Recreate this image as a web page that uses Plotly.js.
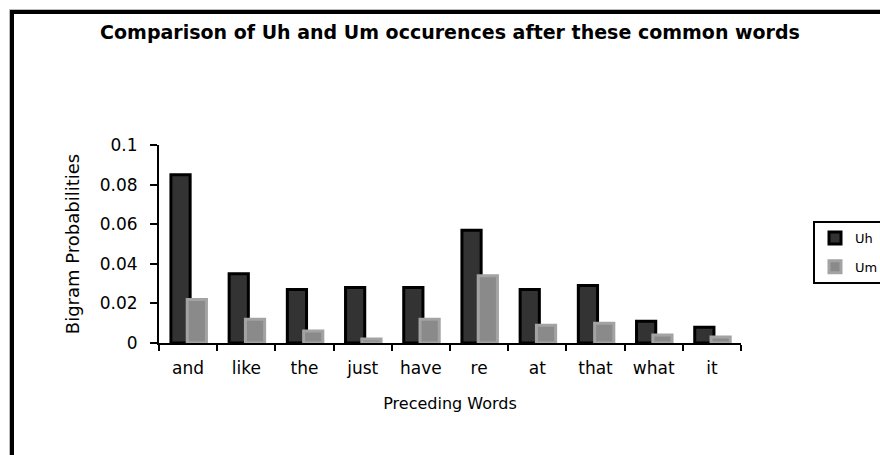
<!DOCTYPE html>
<html>
<head>
<meta charset="utf-8">
<script src="https://cdn.plot.ly/plotly-3.0.1.min.js"></script>
<style>
  html, body { margin: 0; padding: 0; background: #ffffff; }
  #wrap { position: relative; width: 880px; height: 455px; overflow: hidden; }
  #chart { position: absolute; left: 0; top: 0; width: 880px; height: 455px; }
  /* heavy frame running along the top and left edges of the figure */
  #frame {
    position: absolute; left: 10px; top: 10px; width: 900px; height: 480px;
    border-left: 4px solid #000; border-top: 4px solid #000;
    box-shadow: -1px -1px 0 #bbb;
    pointer-events: none;
  }
</style>
</head>
<body>
<div id="wrap">
  <div id="chart"></div>
  <div id="frame"></div>
</div>
<script>
// Preceding words and the bigram probability of "uh" / "um" following each one
const words = ["and", "like", "the", "just", "have", "re", "at", "that", "what", "it"];
const uhProb = [0.085, 0.035, 0.027, 0.028, 0.028, 0.057, 0.027, 0.029, 0.011, 0.008];
const umProb = [0.022, 0.012, 0.006, 0.002, 0.012, 0.034, 0.009, 0.010, 0.004, 0.003];
const yTicks = [0, 0.02, 0.04, 0.06, 0.08, 0.1];

const FONT = "DejaVu Sans, Verdana, sans-serif";

const traces = [
  {
    type: "bar",
    name: "Uh",
    legendgroup: "uh",
    x: words,
    y: uhProb,
    width: 0.33,
    offset: -0.295,
    marker: { color: "#333333", line: { color: "#000000", width: 3 } },
    hoverinfo: "x+y+name"
  },
  {
    type: "bar",
    name: "Um",
    legendgroup: "um",
    x: words,
    y: umProb,
    width: 0.33,
    offset: -0.015,
    marker: { color: "#8a8a8a", line: { color: "#a3a3a3", width: 3 } },
    hoverinfo: "x+y+name"
  }
];

const layout = {
  width: 880,
  height: 455,
  margin: { l: 159, r: 139, t: 145, b: 112 },
  paper_bgcolor: "#ffffff",
  plot_bgcolor: "#ffffff",
  barmode: "overlay",
  showlegend: true,
  font: { family: FONT, color: "#000000", size: 17 },
  title: {
    text: "Comparison of Uh and Um occurences after these common words",
    font: { family: FONT, size: 19, weight: "bold", color: "#000000" },
    xref: "container",
    yref: "container",
    x: 450 / 880,
    xanchor: "center",
    y: 1 - 32 / 455,
    yanchor: "middle"
  },
  xaxis: {
    type: "category",
    categoryarray: words,
    showline: true,
    linecolor: "#000000",
    linewidth: 2,
    ticks: "outside",
    tickson: "boundaries",
    ticklen: 6,
    tickwidth: 2,
    tickcolor: "#000000",
    ticklabelstandoff: 9,
    showgrid: false,
    zeroline: false,
    tickfont: { family: FONT, size: 17, color: "#000000" },
    title: {
      text: "Preceding Words",
      font: { family: FONT, size: 16, color: "#000000" },
      standoff: 20
    }
  },
  yaxis: {
    range: [0, 0.1],
    tickvals: yTicks,
    ticktext: yTicks.map(v => String(v)),
    showline: true,
    linecolor: "#000000",
    linewidth: 2,
    ticks: "outside",
    ticklen: 7,
    tickwidth: 2,
    tickcolor: "#000000",
    ticklabelstandoff: 9,
    showgrid: false,
    zeroline: false,
    tickfont: { family: FONT, size: 17, color: "#000000" },
    title: {
      text: "Bigram Probabilities",
      font: { family: FONT, size: 18, color: "#000000" },
      standoff: 15
    }
  },
  legend: {
    xref: "container",
    yref: "container",
    x: 813 / 880,
    xanchor: "left",
    y: 1 - 221 / 455,
    yanchor: "top",
    bgcolor: "#ffffff",
    bordercolor: "#000000",
    borderwidth: 2,
    font: { family: FONT, size: 13, color: "#000000" },
    itemwidth: 30,
    traceorder: "grouped",
    tracegroupgap: 9
  }
};

Plotly.newPlot("chart", traces, layout, { displayModeBar: false, staticPlot: true });
</script>
</body>
</html>
